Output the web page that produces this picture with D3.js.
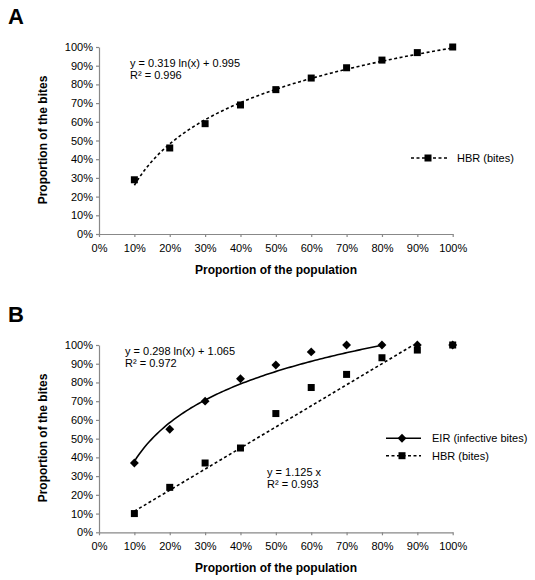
<!DOCTYPE html>
<html><head><meta charset="utf-8">
<script src="https://cdn.jsdelivr.net/npm/d3@7"></script>
<style>body{margin:0;background:#fff}svg{display:block}text{font-family:"Liberation Sans",Arial,sans-serif}</style>
</head><body><svg id="c" width="535" height="580"></svg>
<script>
const xCats = [0.1,0.2,0.3,0.4,0.5,0.6,0.7,0.8,0.9,1.0];
const ticks = [0,0.1,0.2,0.3,0.4,0.5,0.6,0.7,0.8,0.9,1.0];
const hbrA = [0.29,0.46,0.59,0.69,0.772,0.834,0.889,0.93,0.97,1.0];
const eirB = [0.37,0.55,0.70,0.82,0.893,0.963,1.0,1.0,1.0,1.0];
const hbrB = [0.10,0.24,0.37,0.45,0.634,0.773,0.843,0.932,0.973,1.0];
const fitA = {a:0.319,b:0.995};
const fitEIR = {a:0.298,b:1.065};
const fitHBR = {m:1.125};

const svg = d3.select("#c");
const fmt = d3.format(".0%");

function panel(top, letter, letterY, yTop, yBot, xLabY, yLabC) {
  const g = svg.append("g").attr("transform", `translate(0,${top})`);
  const x = d3.scaleLinear().domain([0,1]).range([99,452.7]);
  const y = d3.scaleLinear().domain([0,1]).range([yBot,yTop]);
  g.append("text").attr("x",8).attr("y",letterY).attr("font-size",22).attr("font-weight","bold").text(letter);
  const ax = g.append("g").attr("transform",`translate(0,${yBot})`)
    .call(d3.axisBottom(x).tickValues(ticks).tickFormat(fmt).tickSize(3).tickSizeOuter(0).tickPadding(7));
  const ay = g.append("g").attr("transform","translate(99,0)")
    .call(d3.axisLeft(y).tickValues(ticks).tickFormat(fmt).tickSize(3).tickSizeOuter(0).tickPadding(3));
  [ax,ay].forEach(a=>{
    a.selectAll("path,line").attr("stroke","#888").attr("stroke-width",1.2);
    a.selectAll("text").attr("font-size",11).attr("fill","#000").attr("font-family","Liberation Sans, Arial, sans-serif");
  });
  g.append("text").attr("x",276).attr("y",xLabY).attr("text-anchor","middle").attr("font-size",12).attr("font-weight","bold").text("Proportion of the population");
  g.append("text").attr("transform",`translate(47,${yLabC}) rotate(-90)`).attr("text-anchor","middle").attr("font-size",12).attr("font-weight","bold").text("Proportion of the bites");
  return {g,x,y};
}

function squares(p, vals) {
  p.g.append("g").selectAll("rect").data(vals).join("rect")
    .attr("x",(d,i)=>p.x(xCats[i])-3.5).attr("y",d=>p.y(d)-3.5).attr("width",7).attr("height",7).attr("fill","#000");
}
function diamonds(p, vals) {
  const sym = d3.symbol().type(d3.symbolDiamond2).size(50);
  p.g.append("g").selectAll("path").data(vals).join("path")
    .attr("transform",(d,i)=>`translate(${p.x(xCats[i])},${p.y(d)})`).attr("d",sym).attr("fill","#000");
}
function curve(p, f, x0, x1, dash) {
  const pts = d3.range(0,101).map(k=>x0+(x1-x0)*k/100);
  p.g.append("path").datum(pts)
    .attr("d", d3.line().x(v=>p.x(v)).y(v=>p.y(Math.min(1,f(v)))))
    .attr("fill","none").attr("stroke","#000").attr("stroke-width",1.6)
    .attr("stroke-dasharray", dash ? "3,2.5" : null);
}

// Panel A
const A = panel(0, "A", 24, 47, 234, 274, 140);
curve(A, v=>fitA.a*Math.log(v)+fitA.b, 0.1, 1.0, true);
squares(A, hbrA);
A.g.append("text").attr("x",130).attr("y",67).attr("font-size",11).text(`y = ${fitA.a} ln(x) + ${fitA.b}`);
A.g.append("text").attr("x",130).attr("y",79).attr("font-size",11).text("R² = 0.996");
A.g.append("line").attr("x1",411).attr("x2",447).attr("y1",158).attr("y2",158).attr("stroke","#000").attr("stroke-width",1.6).attr("stroke-dasharray","3,2.5");
A.g.append("rect").attr("x",424.5).attr("y",154.5).attr("width",7).attr("height",7);
A.g.append("text").attr("x",457).attr("y",162).attr("font-size",11).text("HBR (bites)");

// Panel B
const B = panel(290, "B", 32, 55, 242.3, 282, 148);
curve(B, v=>fitEIR.a*Math.log(v)+fitEIR.b, 0.1, 0.8, false);
curve(B, v=>fitHBR.m*v, 0.1, 1/fitHBR.m, true);
squares(B, hbrB);
diamonds(B, eirB);
B.g.append("text").attr("x",125).attr("y",65).attr("font-size",11).text(`y = ${fitEIR.a} ln(x) + ${fitEIR.b}`);
B.g.append("text").attr("x",125).attr("y",77).attr("font-size",11).text("R² = 0.972");
B.g.append("text").attr("x",267).attr("y",186).attr("font-size",11).text(`y = ${fitHBR.m} x`);
B.g.append("text").attr("x",267).attr("y",198).attr("font-size",11).text("R² = 0.993");
B.g.append("line").attr("x1",386).attr("x2",421).attr("y1",148.3).attr("y2",148.3).attr("stroke","#000").attr("stroke-width",1.6);
B.g.append("path").attr("transform","translate(402,148.3)").attr("d",d3.symbol().type(d3.symbolDiamond2).size(50)());
B.g.append("text").attr("x",432).attr("y",152.3).attr("font-size",11).text("EIR (infective bites)");
B.g.append("line").attr("x1",386).attr("x2",421).attr("y1",165.7).attr("y2",165.7).attr("stroke","#000").attr("stroke-width",1.6).attr("stroke-dasharray","3,2.5");
B.g.append("rect").attr("x",398.5).attr("y",162.2).attr("width",7).attr("height",7);
B.g.append("text").attr("x",432).attr("y",169.7).attr("font-size",11).text("HBR (bites)");
</script></body></html>
